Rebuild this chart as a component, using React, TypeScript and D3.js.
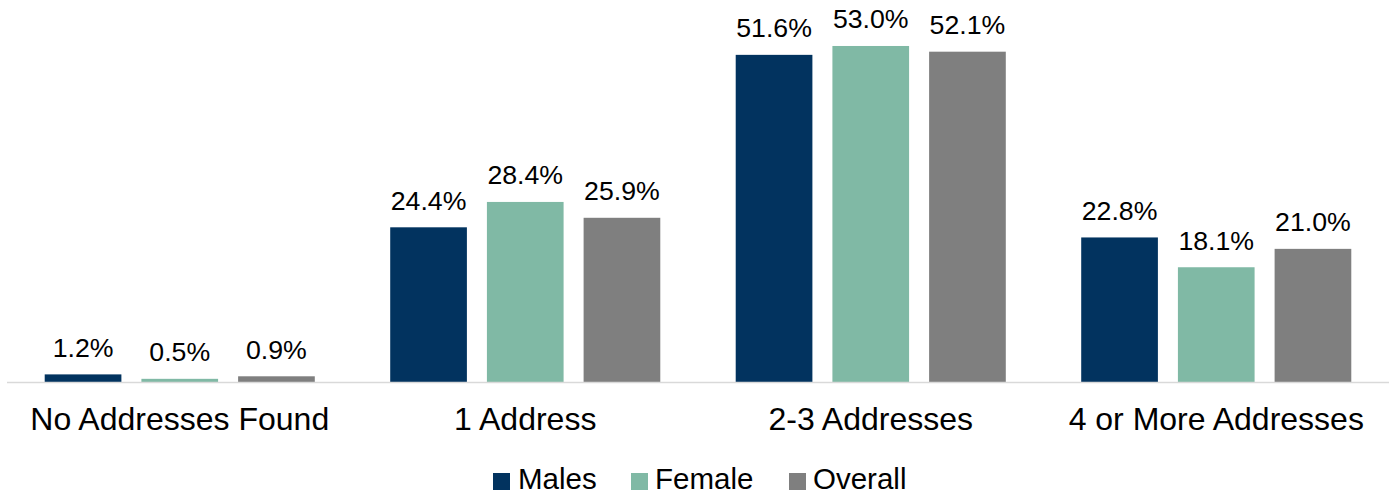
import React from "react";
import * as d3 from "d3";

const categories = ["No Addresses Found", "1 Address", "2-3 Addresses", "4 or More Addresses"];
const seriesNames = ["Males", "Female", "Overall"];
const males = [1.2, 24.4, 51.6, 22.8];
const female = [0.5, 28.4, 53.0, 18.1];
const overall = [0.9, 25.9, 52.1, 21.0];
const colors = ["#02335f", "#80b9a5", "#7f7f7f"];

const W = 1392;
const H = 495;

export default function App() {
  const series = [males, female, overall];
  const x0 = d3.scaleBand<string>().domain(categories).range([7, 1389]).paddingInner(0).paddingOuter(0);
  const x1 = d3
    .scaleBand<string>()
    .domain(seriesNames)
    .range([0, x0.bandwidth()])
    .paddingInner(0.207)
    .paddingOuter(0.39);
  const y = d3.scaleLinear().domain([0, 60]).range([382, 1.6]);
  const font = "Arial, 'Liberation Sans', sans-serif";

  const legendItems = [
    { name: "Males", sx: 493, tx: 518 },
    { name: "Female", sx: 631, tx: 655 },
    { name: "Overall", sx: 789, tx: 813 },
  ];

  return (
    <svg
      width={W}
      height={H}
      style={{ position: "absolute", left: 0, top: 0, background: "#fff" }}
      fontFamily={font}
    >
      {categories.map((c, ci) => (
        <g key={c} transform={`translate(${x0(c)},0)`}>
          {seriesNames.map((s, si) => {
            const v = series[si][ci];
            const bx = x1(s)!;
            const bw = x1.bandwidth();
            return (
              <g key={s}>
                <rect x={bx} y={y(v)} width={bw} height={y(0) - y(v)} fill={colors[si]} />
                <text
                  x={bx + bw / 2}
                  y={y(v) - 17.5}
                  textAnchor="middle"
                  fontSize={26.7}
                  fill="#000"
                >
                  {v.toFixed(1) + "%"}
                </text>
              </g>
            );
          })}
          <text x={x0.bandwidth() / 2} y={430} textAnchor="middle" fontSize={32} fill="#000">
            {c}
          </text>
        </g>
      ))}
      <line x1={7} x2={1389} y1={382.5} y2={382.5} stroke="#d9d9d9" strokeWidth={1.5} />
      {legendItems.map((l, i) => (
        <g key={l.name}>
          <rect x={l.sx} y={473} width={17} height={17} fill={colors[i]} />
          <text x={l.tx} y={488.5} fontSize={29.5} fill="#000">
            {l.name}
          </text>
        </g>
      ))}
    </svg>
  );
}
